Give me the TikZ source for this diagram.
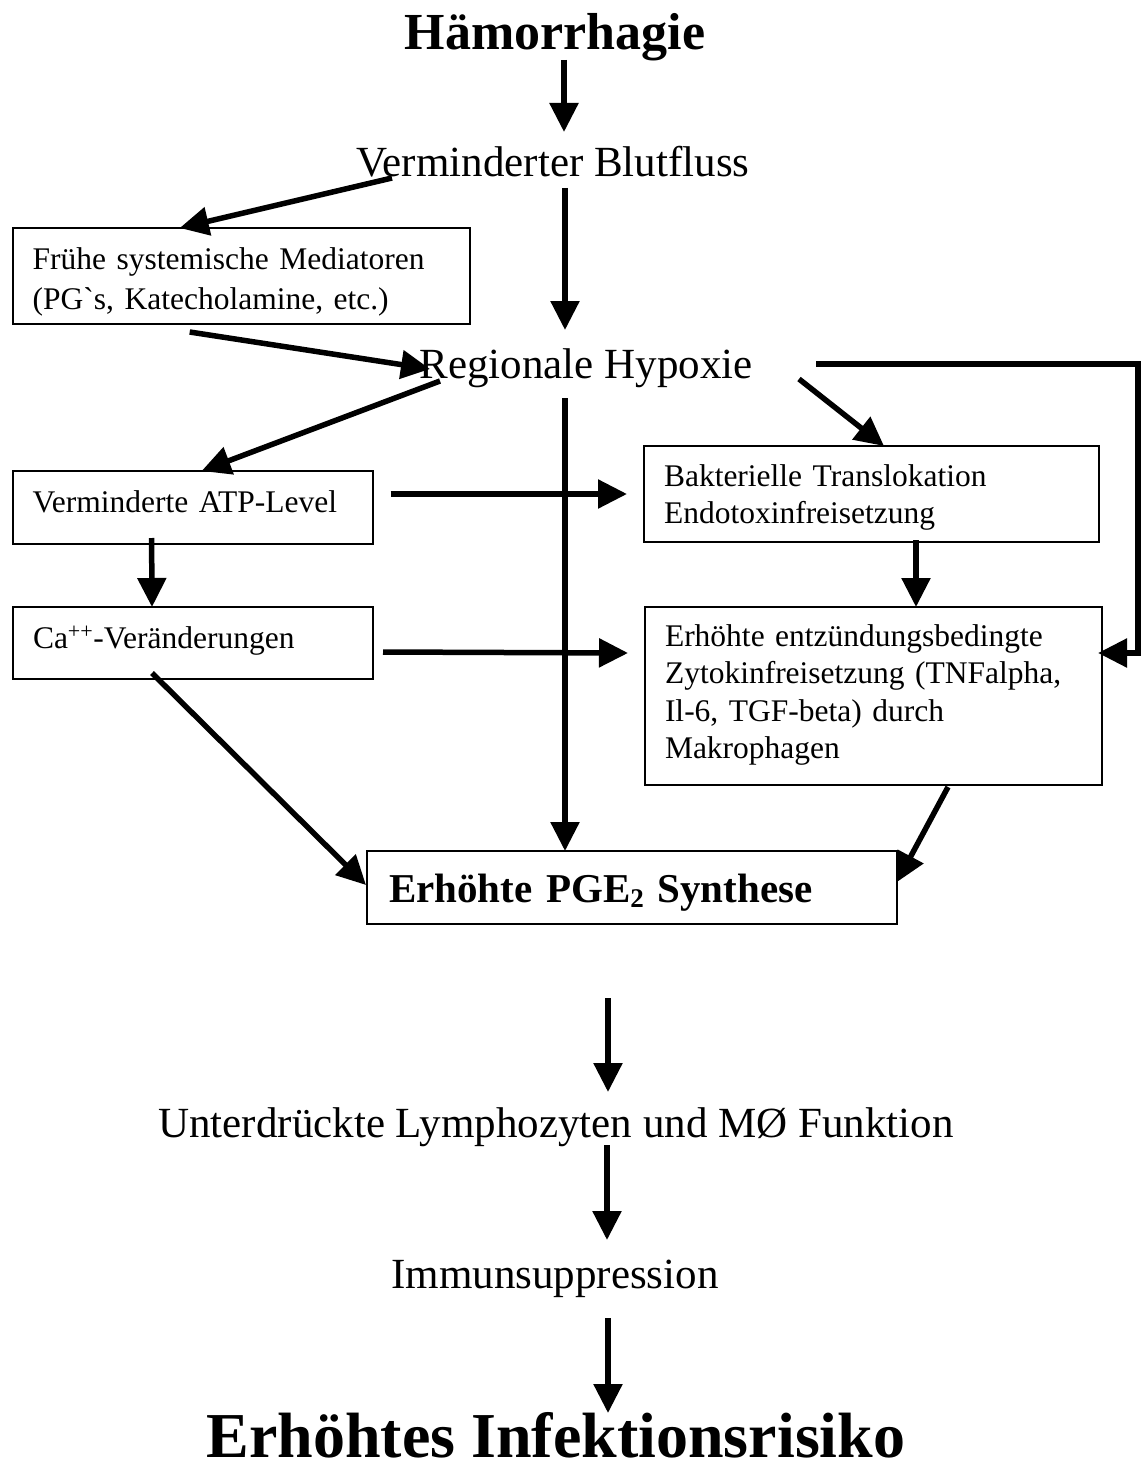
\documentclass[tikz,border=0pt]{standalone}
\usepackage{fontspec}
\setmainfont{Liberation Serif}
\usetikzlibrary{arrows.meta,calc}
\begin{document}
\begin{tikzpicture}[x=1pt,y=-1pt,
  arr/.style={line width=5.5pt,-{Triangle[length=29pt,width=28pt]}},
  plain/.style={inner sep=0pt,outer sep=0pt,anchor=base},
  midtext/.style={plain,font=\fontsize{43}{50}\selectfont},
  bigtext/.style={plain,font=\bfseries\fontsize{52}{60}\selectfont},
  hugetext/.style={plain,font=\bfseries\fontsize{64}{72}\selectfont},
  box/.style={draw,line width=2pt,anchor=north west,inner ysep=0pt,inner xsep=20pt,outer sep=0pt,align=left,font=\fontsize{31.5}{40}\selectfont},
  boxb/.style={box,font=\fontsize{31.5}{37.5}\selectfont},
]
\useasboundingbox (0,0) rectangle (1140,1466);

% text nodes
\node[bigtext] (title) at (555,50) {Hämorrhagie};
\node[midtext] (blut) at (553,177) {Verminderter Blutfluss};
\node[midtext] (hyp) at (586,378) {Regionale Hypoxie};
\node[midtext] (unt) at (556,1137) {Unterdrückte Lymphozyten und MØ Funktion};
\node[midtext] (imm) at (555,1288) {Immunsuppression};
\node[hugetext] (risk) at (556,1457) {Erhöhtes Infektionsrisiko};

% boxes
\node[box,minimum width=457pt,text width=417pt,minimum height=96pt,text height=41pt,text depth=55pt] (b1) at (12.7,228)
  {Frühe systemische Mediatoren\\(PG\textasciigrave s, Katecholamine, etc.)};
\node[box,minimum width=360pt,text width=320pt,minimum height=73pt,text height=41pt,text depth=32pt,inner xsep=20pt] (b2) at (12.6,471)
  {Verminderte ATP-Level};
\node[box,minimum width=360pt,text width=320pt,minimum height=72pt,text height=41pt,text depth=31pt] (b3) at (13,607)
  {Ca\textsuperscript{++}-Veränderungen};
\node[boxb,minimum width=455pt,text width=415pt,minimum height=96pt,text height=40pt,text depth=56pt] (b4) at (644,446)
  {Bakterielle Translokation\\Endotoxinfreisetzung};
\node[boxb,minimum width=457pt,text width=417pt,minimum height=178pt,text height=39pt,text depth=139pt] (b5) at (645,607)
  {Erhöhte entzündungsbedingte\\Zytokinfreisetzung (TNFalpha,\\Il-6, TGF-beta) durch\\Makrophagen};
\node[box,minimum width=530pt,text width=486pt,minimum height=73pt,text height=51pt,text depth=22pt,inner xsep=22pt,
  font=\bfseries\fontsize{41}{48}\selectfont] (pge) at (367,851)
  {Erhöhte PGE{\fontsize{27}{30}\selectfont\raisebox{-5pt}{2}} Synthese};

% connectors
\draw[arr] ($(title.base)+(9,10)$) -- ($(blut.base)+(11,-45)$);
\draw[arr] ($(blut.base)+(-161,1)$) -- ($(b1.north west)+(167,0)$);
\draw[arr] ($(blut.base)+(12,11)$) -- ($(hyp.base)+(-21,-48)$);
\draw[arr] ($(b1.south west)+(177,8)$) -- ($(hyp.base)+(-156,-9)$);
\draw[arr] ($(hyp.base)+(-146,3)$) -- ($(b2.north west)+(189,0)$);
\draw[arr] ($(hyp.base)+(-21,20)$) -- ($(pge.north west)+(198,0)$);
\draw[arr] ($(hyp.base)+(213,1)$) -- ($(b4.north west)+(240,0)$);
\draw[arr] ($(hyp.base)+(230,-14)$) -- ++(322,0) |- ($(b5.north east)+(-4,46)$);
\draw[arr] ($(b2.north east)+(18,23)$) -- ($(b4.north west)+(-17,48)$);
\draw[arr] ($(b2.south west)+(139,-6)$) -- ($(b3.north west)+(139,0)$);
\draw[arr] ($(b4.south west)+(272,-2)$) -- ($(b5.north west)+(271,0)$);
\draw[arr] ($(b3.north east)+(10,45)$) -- ($(b5.north west)+(-17,46)$);
\draw[arr] ($(b3.south west)+(139,-6)$) -- ($(pge.north west)+(-1,34)$);
\draw[arr] ($(b5.south west)+(303,2)$) -- ($(pge.north east)+(0,31)$);
\draw[arr] ($(pge.south west)+(241,74)$) -- ($(unt.base)+(52,-45)$);
\draw[arr] ($(unt.base)+(51,8)$) -- ($(imm.base)+(52,-48)$);
\draw[arr] ($(imm.base)+(53,30)$) -- ($(risk.base)+(52,-44)$);
\end{tikzpicture}
\end{document}
